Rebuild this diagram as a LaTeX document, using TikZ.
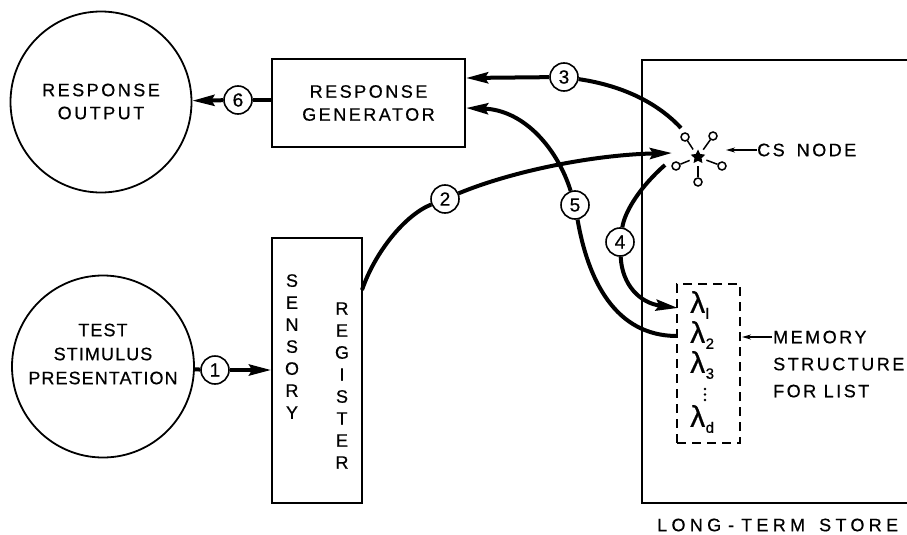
\documentclass[tikz,border=0pt]{standalone}
\usepackage{fontspec}
\setmainfont{Liberation Sans}
\newfontfamily\lab[LetterSpace=14,FakeBold=0.6]{Liberation Sans}
\newfontfamily\labn[LetterSpace=6,FakeBold=0.6]{Liberation Sans}
\newfontfamily\labw[LetterSpace=24,FakeBold=0.6]{Liberation Sans}
\newfontfamily\lamfont[FakeBold=0.6]{Liberation Sans}
\newcommand\lamsub[1]{{\lamfont λ\kern0.5pt\raisebox{-6pt}{\fontsize{15}{15}\selectfont#1}}}
\usetikzlibrary{arrows.meta,shapes.geometric}
\begin{document}
\begin{tikzpicture}[x=1pt,y=-1pt,
  box/.style={draw,line width=1.8pt},
  conn/.style={line width=4pt},
  tip/.style={-{Stealth[length=22pt,width=11pt,inset=3pt]}},
  smalltip/.style={line width=1.5pt,-{Stealth[length=9pt,width=5pt]}},
  num/.style={circle,draw,line width=1.6pt,minimum size=28pt,inner sep=0pt,fill=white,font=\labn\fontsize{19}{19}\selectfont},
  lbl/.style={font=\lab\fontsize{18}{24}\selectfont,align=center},
  vlbl/.style={font=\lab\fontsize{18}{22}\selectfont,align=center,inner sep=0pt},
  dot/.style={circle,draw,line width=1.5pt,minimum size=8pt,inner sep=0pt},
  lam/.style={font=\fontsize{30}{30}\selectfont,inner sep=0pt,anchor=west},
]
\useasboundingbox (0,0) rectangle (907,535);

% main shapes
\node[draw,circle,line width=1.8pt,minimum size=181pt,inner sep=0pt] (out) at (101,102) {};
\node[lbl,font=\lab\fontsize{18}{23}\selectfont,inner sep=0pt] (outlbl) at (101,101.5) {RESPONSE\\OUTPUT};
\node[draw,circle,line width=1.8pt,minimum size=182pt,inner sep=0pt] (test) at (103,366.5) {};
\node[lbl,font=\labn\fontsize{18}{24}\selectfont,inner sep=0pt] (testlbl) at (103,354) {TEST\\STIMULUS\\PRESENTATION};
\node[box,minimum width=193pt,minimum height=88pt,lbl,font=\lab\fontsize{18}{23}\selectfont] (gen) at (368.5,103) {RESPONSE\\GENERATOR};
\node[box,minimum width=90pt,minimum height=265pt] (reg) at (317,370.5) {};
\node[vlbl] (sens) at (292,346.5) {S\\E\\N\\S\\O\\R\\Y};
\node[vlbl] (regi) at (342,385.5) {R\\E\\G\\I\\S\\T\\E\\R};

% long-term store (open at right)
\draw[line width=1.8pt] (907,60) -- (642,60) -- (642,503) -- (907,503);
\node[font=\labw\fontsize{18}{24}\selectfont,anchor=west,inner sep=0pt] (lts) at (657,525) {LONG\kern7pt{-}\kern7pt TERM\kern14pt STORE};

% memory structure
\node[draw,dashed,dash pattern=on 9pt off 6pt,line width=1.6pt,minimum width=63pt,minimum height=159pt] (mem) at (708.5,363.5) {};
\node[lam] (l1n) at (690,305) {\lamsub{l}};
\node[lam] (l2n) at (690,335) {\lamsub{2}};
\node[lam] (l3n) at (690,365) {\lamsub{3}};
\node[lam] (ldn) at (690,419) {\lamsub{d}};
\foreach \yy in {389,394.5,400} \fill (705,\yy) circle (1.4pt);
\node[lbl,align=left,anchor=north west,inner sep=0pt,font=\lab\fontsize{18}{27}\selectfont] (memlbl) at (773,330.5) {MEMORY\\STRUCTURE\\FOR LIST};
\coordinate (memin) at (742,337);
\draw[smalltip] (772,337) -- (memin);

% CS node
\node[star,star points=5,star point ratio=2,fill,inner sep=0pt,minimum size=15pt] (cs) at (698,157) {};
\node[dot] (d1) at (685,137) {};
\node[dot] (d2) at (713,136) {};
\node[dot] (d3) at (676,166) {};
\node[dot] (d4) at (722,166) {};
\node[dot] (d5) at (698,182) {};
\foreach \d in {d1,d2,d3,d4,d5} \draw[line width=1.5pt,shorten <=9pt] (cs.center) -- (\d);
\node[lbl,anchor=west,inner sep=0pt] (cslbl) at (757,150) {CS\hspace*{12pt}NODE};
\draw[smalltip] (cslbl.west) -- (726,150);

% numbered circles
\node[num] (n1) at (215,370) {1};
\node[num] (n2) at (445,199) {2};
\node[num] (n3) at (564,77) {3};
\node[num] (n4) at (620,242) {4};
\node[num] (n5) at (575,205) {5};
\node[num] (n6) at (238,100) {6};

% anchor coordinates
\coordinate (g6) at (272,100);
\coordinate (g3) at (466,78);
\coordinate (g5) at (466,108);
\coordinate (r2) at (362,290);
\coordinate (cs2) at (672,153);
\coordinate (cs3) at (681,128);
\coordinate (cs4) at (665,165);
\coordinate (l1) at (678,308);
\coordinate (l2) at (677,336);

% connectors
\draw[conn] (g6) -- (n6);
\draw[conn,tip] (n6) -- (out);
\draw[conn] (test) -- (n1);
\draw[conn,tip] (n1) -- (reg.west |- n1);
\draw[conn] (r2) .. controls (375,252) and (405,215) .. (n2);
\draw[conn,tip] (n2) .. controls (510,172) and (590,155) .. (cs2);
\draw[conn] (cs3) .. controls (652,97) and (612,84) .. (n3);
\draw[conn,tip] (n3) -- (g3);
\draw[conn] (cs4) .. controls (642,185) and (625,210) .. (n4);
\draw[conn,tip] (n4) .. controls (622,285) and (640,303) .. (l1);
\draw[conn] (l2) .. controls (615,336) and (588,280) .. (n5);
\draw[conn,tip] (n5) .. controls (558,150) and (525,110) .. (g5);
\end{tikzpicture}
\end{document}
